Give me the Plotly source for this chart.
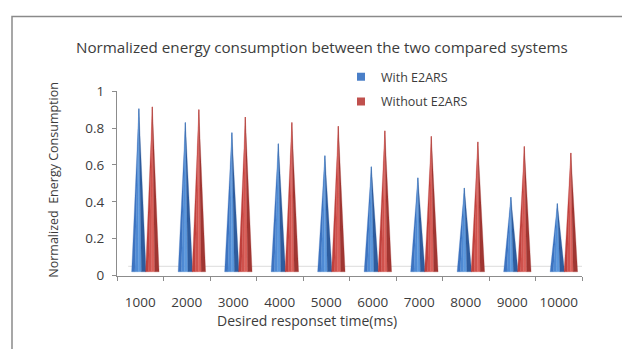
import plotly.graph_objects as go

# ---- data ----
categories = ["1000", "2000", "3000", "4000", "5000", "6000", "7000", "8000", "9000", "10000"]
with_e2ars = [0.885, 0.81, 0.755, 0.695, 0.63, 0.57, 0.51, 0.455, 0.405, 0.37]
without_e2ars = [0.895, 0.88, 0.84, 0.81, 0.79, 0.765, 0.735, 0.705, 0.68, 0.645]
series_names = ["With E2ARS", "Without E2ARS"]
y_tick_vals = [0, 0.2, 0.4, 0.6, 0.8, 1]
y_tick_text = ["0", "0.2", "0.4", "0.6", "0.8", "1"]

# ---- layout helpers (pixels -> paper) ----
W, H = 622, 349
def px(x):
    return x / W
def py(y):
    return (H - y) / H

FONT = "Open Sans"
TXT = "#3c3c3c"
AX = "#8c8c8c"
FLOOR = 0.02  # 3D floor lift

fig = go.Figure()

xpos = list(range(1, len(categories) + 1))


def cone_parts(centers, values, hw, splits):
    parts = [[[], []] for _ in range(len(splits) - 1)]
    for c, v in zip(centers, values):
        for k in range(len(splits) - 1):
            a = c + splits[k] * hw
            b = c + splits[k + 1] * hw
            parts[k][0] += [a, b, c, a, None]
            parts[k][1] += [FLOOR, FLOOR, v + FLOOR, FLOOR, None]
    return parts


splits = [-1, -0.55, -0.1, 0.35, 1]
series = [
    (with_e2ars, -0.03, 0.155, ["#3d73c0", "#4f8ad4", "#5c98dd", "#2e5c9e"]),
    (without_e2ars, 0.26, 0.145, ["#c0403c", "#d0524d", "#da605a", "#a03632"]),
]
for (vals, off, hw, cols), name in zip(series, series_names):
    centers = [x + off for x in xpos]
    parts = cone_parts(centers, vals, hw, splits)
    for (xs, ys), col in zip(parts, cols):
        fig.add_trace(go.Scatter(x=xs, y=ys, mode="lines", fill="toself",
                                 fillcolor=col, line=dict(width=0.3, color=col),
                                 showlegend=False, hoverinfo="skip"))

# legend entries (two separate legends to control spacing)
fig.add_trace(go.Scatter(x=[None], y=[None], mode="markers", name=series_names[0],
                         marker=dict(symbol="square", size=8, color="#4a7fc8"),
                         legend="legend"))
fig.add_trace(go.Scatter(x=[None], y=[None], mode="markers", name=series_names[1],
                         marker=dict(symbol="square", size=8, color="#c0504d"),
                         legend="legend2"))

# 3D floor back edge and right depth edge
fig.add_shape(type="line", xref="x", yref="y", x0=0.5 + 0.24, y0=0.05, x1=10.5 + 0.24, y1=0.05,
              line=dict(color="#dcdcdc", width=1), layer="below")
fig.add_shape(type="line", xref="x", yref="y", x0=10.5, y0=0, x1=10.5 + 0.24, y1=0.05,
              line=dict(color=AX, width=1))

# outer border
fig.add_shape(type="rect", xref="paper", yref="paper", x0=px(12), y0=py(360), x1=px(640), y1=py(8),
              line=dict(color="#8a8a8a", width=1.5), fillcolor="rgba(0,0,0,0)", layer="below")

fig.update_layout(
    width=W, height=H,
    margin=dict(l=0, r=0, t=0, b=0),
    paper_bgcolor="white", plot_bgcolor="white",
    font=dict(family=FONT, color=TXT, size=12),
    xaxis=dict(domain=[px(117), px(582)], range=[0.5, 10.5], tickmode="array",
               tickvals=xpos, ticktext=categories, ticks="", showgrid=False, zeroline=False,
               showline=True, linecolor=AX, linewidth=1, ticklabelstandoff=14,
               tickfont=dict(size=13.5, color=TXT, family=FONT),
               minor=dict(tickmode="array", tickvals=[x + 0.5 for x in range(0, 11)],
                          ticks="outside", ticklen=4, tickcolor=AX, showgrid=False)),
    yaxis=dict(domain=[py(281), py(86.7)], range=[0, 1], tickmode="array",
               tickvals=y_tick_vals, ticktext=y_tick_text, ticks="outside", ticklen=4,
               tickcolor=AX, showgrid=False, zeroline=False, showline=True, linecolor=AX,
               linewidth=1, ticklabelstandoff=5, tickfont=dict(size=13.5, color=TXT, family=FONT)),
    showlegend=True,
    legend=dict(x=px(341), y=py(56), xanchor="left", yanchor="top", bgcolor="rgba(0,0,0,0)",
                font=dict(size=12.5, color=TXT, family=FONT), itemwidth=30),
    legend2=dict(x=px(341), y=py(82), xanchor="left", yanchor="top", bgcolor="rgba(0,0,0,0)",
                 font=dict(size=12.5, color=TXT, family=FONT), itemwidth=30),
    annotations=[
        dict(text="Normalized energy consumption between the two compared systems",
             xref="paper", yref="paper", x=px(322), y=py(40), xanchor="center", yanchor="middle",
             showarrow=False, font=dict(size=15.2, color=TXT, family=FONT)),
        dict(text="Desired responset time(ms)", xref="paper", yref="paper", x=px(307), y=py(328),
             xanchor="center", yanchor="middle", showarrow=False,
             font=dict(size=14, color=TXT, family=FONT)),
        dict(text="Normalized  Energy Consumption", xref="paper", yref="paper", x=px(54), y=py(180),
             xanchor="center", yanchor="middle", showarrow=False, textangle=-90,
             font=dict(size=12.5, color=TXT, family=FONT)),
    ],
)

fig.write_html("out.html")
